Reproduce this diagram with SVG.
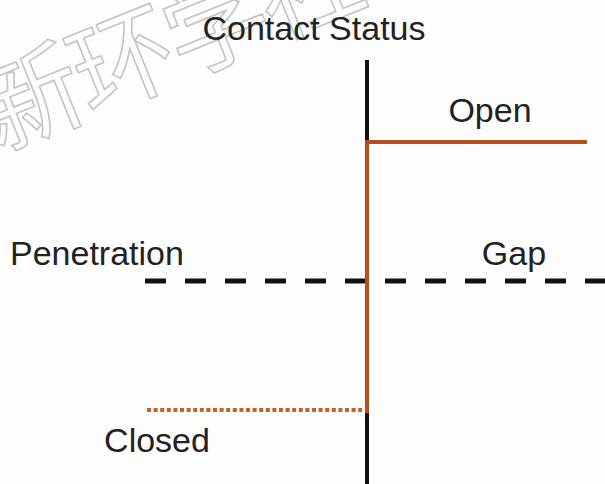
<svg xmlns="http://www.w3.org/2000/svg" width="605" height="484" viewBox="0 0 605 484">
<style>
.lbl{font-family:"Liberation Sans",Arial,sans-serif;font-size:34px;fill:#222}
.wm{font-family:"Noto Sans CJK SC",sans-serif;font-size:104px;fill:#fdfdfd;stroke:#c4c4c4;stroke-width:1.6}
.axis{stroke:#111;stroke-width:4;fill:none}
.org{stroke:#b5501c;stroke-width:4;fill:none}
</style>
<rect width="605" height="484" fill="#fdfdfd"/>
<g id="watermark" transform="rotate(-22 0 140)">
<text class="wm" x="-8" y="150" letter-spacing="-4">新环学社</text>
</g>
<g id="connectors">
<line class="axis" x1="367" y1="60" x2="367" y2="484"/>
<line x1="145" y1="281" x2="605" y2="281" stroke="#111" stroke-width="5" stroke-dasharray="21 19"/>
<line x1="147" y1="410" x2="364" y2="410" stroke="#c0622a" stroke-width="4" stroke-dasharray="4 2.6"/>
<polyline class="org" points="367,413 367,142 587,142"/>
</g>
<g id="title"><text class="lbl" x="314" y="40" text-anchor="middle">Contact Status</text></g>
<g id="open"><text class="lbl" x="490" y="122" text-anchor="middle">Open</text></g>
<g id="penetration"><text class="lbl" x="10" y="265">Penetration</text></g>
<g id="gap"><text class="lbl" x="514" y="265" text-anchor="middle">Gap</text></g>
<g id="closed"><text class="lbl" x="157" y="452" text-anchor="middle">Closed</text></g>
</svg>
